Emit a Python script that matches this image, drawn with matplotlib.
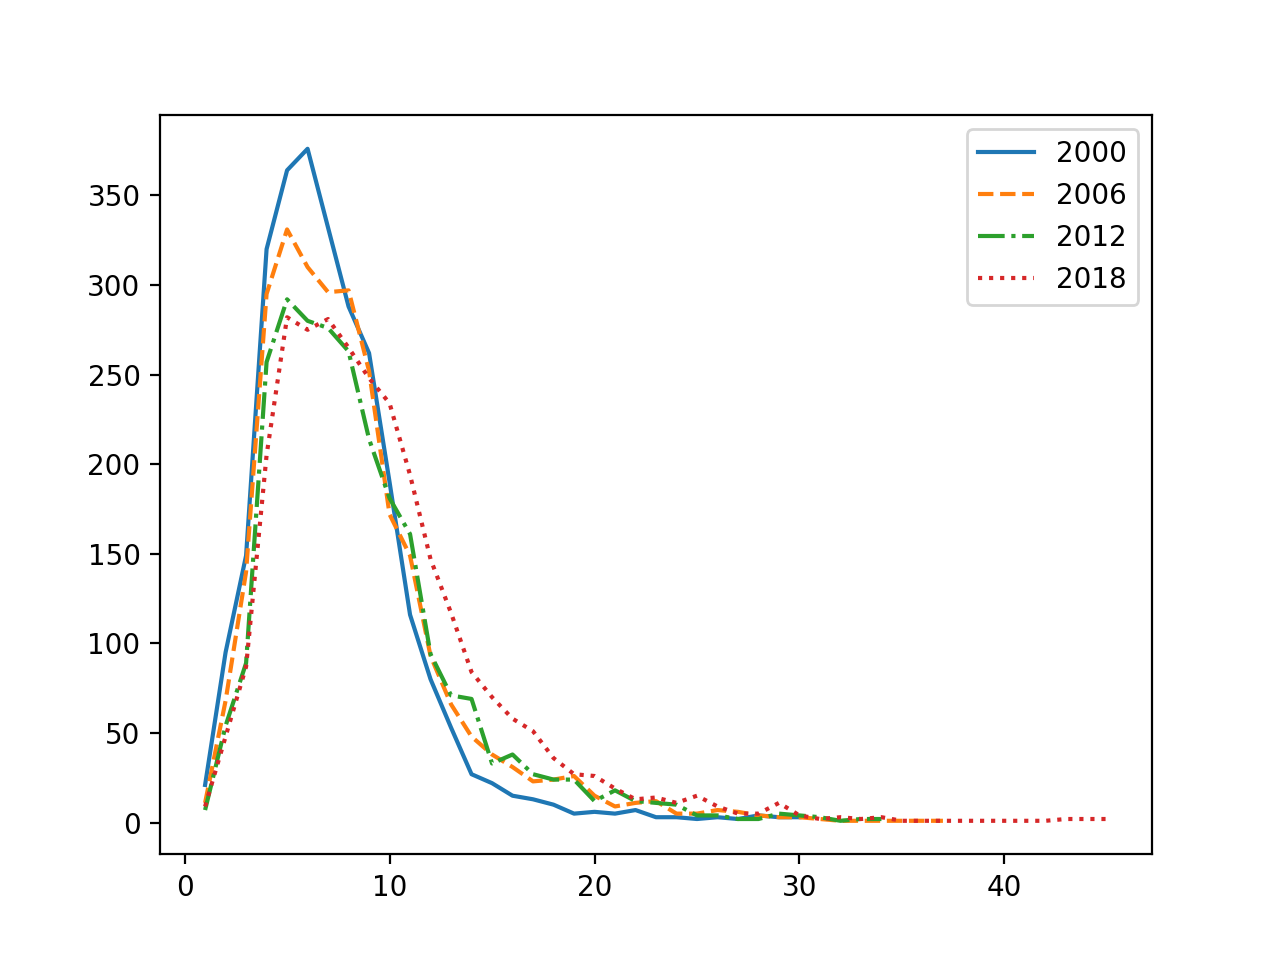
import matplotlib
matplotlib.use("Agg")
import matplotlib.pyplot as plt

labels = ["2000", "2006", "2012", "2018"]

y2000 = [21, 95, 149, 320, 364, 376, 332, 288, 262, 190, 116, 80, 53, 27, 22, 15, 13, 10, 5, 6,
         5, 7, 3, 3, 2, 3, 2, 4, 3, 3]
y2006 = [11, 68, 140, 295, 331, 310, 296, 297, 252, 172, 149, 93, 66, 48, 38, 31, 23, 24, 26, 15,
         9, 11, 12, 5, 5, 7, 6, 4, 3, 3, 2, 1, 1, 1, 1, 1, 1]
y2012 = [7, 54, 89, 257, 292, 280, 276, 263, 214, 181, 161, 94, 71, 69, 33, 38, 27, 24, 24, 12,
         18, 12, 11, 10, 4, 4, 2, 2, 5, 4, 3, 1, 2, 2]
y2018 = [9, 48, 87, 205, 282, 275, 281, 265, 248, 234, 194, 147, 117, 84, 70, 58, 51, 36, 27, 26,
         19, 13, 14, 11, 15, 9, 5, 5, 11, 4, 2, 3, 2, 3, 1, 1, 1, 1, 1, 1, 1, 1, 2, 2, 2]

series = [y2000, y2006, y2012, y2018]
styles = ["-", "--", "-.", ":"]

fig, ax = plt.subplots(figsize=(6.4, 4.8), dpi=200)
for lab, ys, ls in zip(labels, series, styles):
    xs = list(range(1, len(ys) + 1))
    ax.plot(xs, ys, linestyle=ls, label=lab)
ax.legend(loc="upper right")
fig.savefig("out.png", dpi=200)
